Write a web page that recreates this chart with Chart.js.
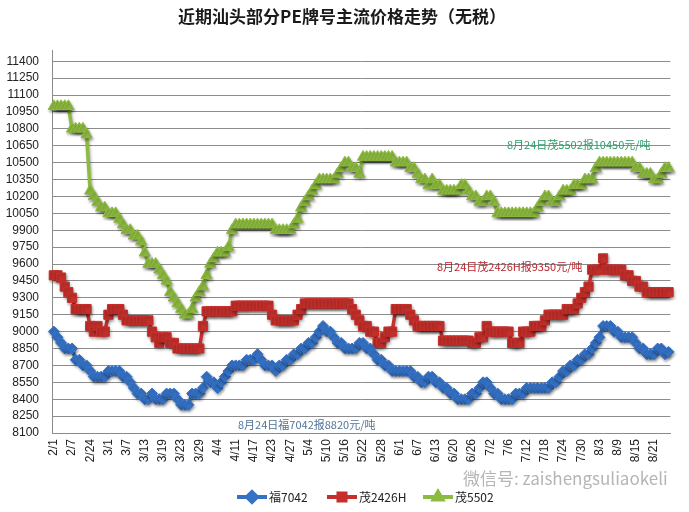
<!DOCTYPE html>
<html>
<head>
<meta charset="utf-8">
<script src="https://cdn.jsdelivr.net/npm/chart.js@4.4.1/dist/chart.umd.min.js"></script>
<style>
  html, body { margin: 0; padding: 0; background: #fff; }
  #wrap { width: 689px; height: 512px; }
</style>
</head>
<body>
<div id="wrap"><canvas id="priceChart"></canvas></div>
<script>
// x-axis: one label every 5 points
const tickLabels = ["2/1","2/7","2/24","3/1","3/7","3/13","3/19","3/23","3/29","4/4",
  "4/11","4/17","4/23","4/27","5/4","5/10","5/16","5/22","5/28","6/1",
  "6/7","6/13","6/20","6/26","7/2","7/6","7/12","7/18","7/24","7/30",
  "8/3","8/9","8/15","8/21"];
const pointsPerTick = 5;
const pointCount = 170;

// 福7042
const fu7042 = [
  9000,8950,8900,8850,8850,8850,8750,8750,8700,8700,
  8650,8600,8600,8600,8600,8650,8650,8650,8650,8600,
  8600,8550,8500,8450,8450,8400,8400,8450,8400,8400,
  8400,8450,8450,8450,8400,8350,8350,8350,8450,8450,
  8450,8500,8600,8550,8550,8500,8550,8600,8650,8700,
  8700,8700,8700,8750,8750,8750,8800,8750,8700,8700,
  8700,8650,8700,8700,8750,8750,8800,8800,8850,8850,
  8900,8900,8950,9000,9050,9000,9000,8950,8900,8900,
  8850,8850,8850,8850,8900,8900,8850,8850,8800,8750,
  8750,8700,8700,8650,8650,8650,8650,8650,8650,8600,
  8600,8550,8550,8600,8600,8550,8550,8500,8500,8450,
  8450,8400,8400,8400,8400,8450,8450,8500,8550,8550,
  8500,8450,8450,8400,8400,8400,8400,8450,8450,8450,
  8500,8500,8500,8500,8500,8500,8500,8550,8550,8600,
  8650,8650,8700,8700,8750,8750,8800,8800,8850,8900,
  8950,9050,9050,9050,9000,9000,8950,8950,8950,8950,
  8900,8850,8850,8800,8800,8800,8850,8850,8800,8820
];

// 茂2426H
const mao2426H = [
  9500,9500,9480,9400,9350,9300,9200,9200,9200,9200,
  9050,9000,9050,9000,9000,9150,9200,9200,9200,9150,
  9100,9100,9100,9100,9100,9100,9100,9000,8950,8900,
  8950,8950,8900,8900,8850,8850,8850,8850,8850,8850,
  8850,9050,9180,9180,9180,9180,9180,9180,9180,9180,
  9230,9230,9230,9230,9230,9230,9230,9230,9230,9230,
  9150,9100,9100,9100,9100,9100,9100,9150,9200,9250,
  9250,9250,9250,9250,9250,9250,9250,9250,9250,9250,
  9250,9250,9200,9150,9100,9050,9050,9000,9000,8900,
  8900,8950,9000,9000,9200,9200,9200,9200,9150,9100,
  9050,9050,9050,9050,9050,9050,9050,8920,8920,8920,
  8920,8920,8920,8920,8920,8900,8900,8950,8950,9050,
  9000,9000,9000,9000,9000,9000,8900,8900,8900,9000,
  9000,9000,9050,9050,9050,9100,9150,9150,9150,9150,
  9150,9200,9200,9200,9250,9300,9350,9400,9550,9550,
  9550,9650,9550,9550,9550,9550,9550,9500,9500,9450,
  9450,9400,9400,9350,9350,9350,9350,9350,9350,9350
];

// 茂5502
const mao5502 = [
  11000,11000,11000,11000,11000,10800,10800,10800,10800,10750,
  10250,10200,10150,10100,10100,10050,10050,10050,10000,9950,
  9900,9900,9850,9850,9800,9700,9600,9600,9600,9550,
  9500,9450,9350,9300,9250,9200,9150,9150,9200,9300,
  9350,9400,9500,9600,9650,9700,9700,9700,9750,9900,
  9950,9950,9950,9950,9950,9950,9950,9950,9950,9950,
  9950,9900,9900,9900,9900,9900,9950,10000,10100,10150,
  10200,10250,10300,10350,10350,10350,10350,10350,10400,10450,
  10500,10500,10450,10450,10400,10550,10550,10550,10550,10550,
  10550,10550,10550,10550,10500,10500,10500,10500,10450,10450,
  10400,10350,10350,10300,10350,10300,10300,10250,10250,10250,
  10250,10250,10300,10300,10250,10200,10200,10150,10150,10200,
  10200,10150,10050,10050,10050,10050,10050,10050,10050,10050,
  10050,10050,10050,10100,10150,10200,10200,10150,10150,10200,
  10250,10250,10250,10300,10300,10300,10350,10350,10350,10450,
  10500,10500,10500,10500,10500,10500,10500,10500,10500,10500,
  10450,10450,10400,10400,10400,10350,10350,10400,10450,10450
];

const seriesNames = ["福7042", "茂2426H", "茂5502"];
const seriesColors = ["#3572c6", "#c6302c", "#8dbb3f"];
const seriesMarkers = ["rectRot", "rect", "triangle"];

const yMin = 8100, yTopTick = 11400, yStep = 150, yMax = 11500;

const chartTitle = "近期汕头部分PE牌号主流价格走势（无税）";
const noteTexts = ["8月24日茂5502报10450元/吨", "8月24日茂2426H报9350元/吨", "8月24日福7042报8820元/吨"];
const watermark = "微信号: zaishengsuliaokeli";

const categories = [];
for (let i = 0; i < pointCount; i++) {
  categories.push(i % pointsPerTick === 0 ? tickLabels[i / pointsPerTick] : "");
}

const font = "'Liberation Sans', Arial, sans-serif";
const cjkFont = "'Noto Sans CJK SC', sans-serif";

// extra drawing: title, notes, legend, watermark, line shadow
const decorPlugin = {
  id: "decor",
  beforeDatasetsDraw(chart) {
    const ctx = chart.ctx;
    ctx.save();
    ctx.shadowColor = "rgba(0,0,0,0.35)";
    ctx.shadowOffsetX = 1;
    ctx.shadowOffsetY = 2;
    ctx.shadowBlur = 3;
  },
  afterDatasetsDraw(chart) {
    chart.ctx.restore();
  },
  afterDraw(chart) {
    const ctx = chart.ctx;
    ctx.save();
    ctx.textBaseline = "middle";

    ctx.fillStyle = "#1a1a1a";
    ctx.font = "bold 17px " + cjkFont;
    ctx.textAlign = "center";
    ctx.fillText(chartTitle, 342, 17);

    ctx.textAlign = "left";
    ctx.font = "11px " + cjkFont;
    ctx.fillStyle = "#2f9a6a";
    ctx.fillText(noteTexts[0], 507, 145);
    ctx.fillStyle = "#b8242a";
    ctx.fillText(noteTexts[1], 437, 267);
    ctx.fillStyle = "#4f7396";
    ctx.fillText(noteTexts[2], 238, 425);

    ctx.font = "17px " + cjkFont;
    ctx.fillStyle = "#b5b5b5";
    ctx.fillText(watermark, 463, 479);

    const legendX = [237, 327, 423];
    const y = 497;
    seriesNames.forEach((name, k) => {
      const x0 = legendX[k];
      ctx.strokeStyle = seriesColors[k];
      ctx.lineWidth = 4;
      ctx.beginPath();
      ctx.moveTo(x0, y);
      ctx.lineTo(x0 + 30, y);
      ctx.stroke();
      ctx.fillStyle = seriesColors[k];
      Chart.helpers.drawPoint(ctx, { pointStyle: seriesMarkers[k], radius: 5, rotation: 0, borderWidth: 1 }, x0 + 15, y);
      ctx.fillStyle = "#222";
      ctx.font = "12px " + cjkFont;
      ctx.fillText(name, x0 + 32, y);
    });
    ctx.restore();
  }
};

const datasets = [fu7042, mao2426H, mao5502].map((vals, k) => ({
  label: seriesNames[k],
  data: vals,
  borderColor: seriesColors[k],
  backgroundColor: seriesColors[k],
  borderWidth: 3.5,
  pointStyle: seriesMarkers[k],
  pointRadius: k === 0 ? 5.5 : 6.5,
  pointBorderWidth: 1,
  tension: 0
}));

new Chart(document.getElementById("priceChart"), {
  type: "line",
  data: { labels: categories, datasets: datasets },
  options: {
    responsive: true,
    maintainAspectRatio: false,
    animation: false,
    events: [],
    layout: { padding: { top: 50, right: 8, left: 0, bottom: 0 } },
    plugins: {
      legend: { display: false },
      title: { display: false },
      tooltip: { enabled: false }
    },
    scales: {
      x: {
        type: "category",
        offset: true,
        grid: { display: false, drawTicks: false },
        border: { display: true, color: "#8a8a8a", width: 1 },
        ticks: {
          autoSkip: false,
          maxRotation: 90,
          minRotation: 90,
          padding: 6,
          color: "#222",
          font: { family: font, size: 12 }
        },
        afterFit(scale) { scale.height = 79; }
      },
      y: {
        min: yMin,
        max: yMax,
        grid: { color: "#8c8c8c", lineWidth: 1, drawTicks: false },
        border: { display: true, color: "#8a8a8a", width: 1 },
        ticks: {
          padding: 13,
          color: "#222",
          font: { family: font, size: 12 },
          callback: (v) => String(v)
        },
        afterBuildTicks(scale) {
          const t = [];
          for (let v = yMin; v <= yTopTick; v += yStep) t.push({ value: v });
          scale.ticks = t;
        },
        afterFit(scale) { scale.width = 52; }
      }
    }
  },
  plugins: [decorPlugin]
});
</script>
</body>
</html>
